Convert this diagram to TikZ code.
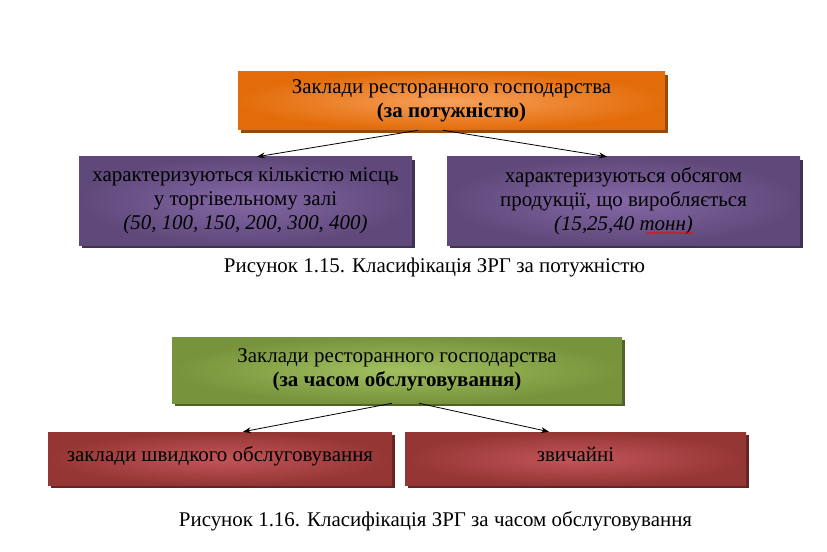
\documentclass[tikz,border=0pt]{standalone}
\usepackage{fontspec}
\setmainfont{Liberation Serif}
\usetikzlibrary{arrows.meta,shadows,decorations.pathmorphing}
\definecolor{orEdge}{HTML}{E36C0A}\definecolor{orIn}{HTML}{F7A05A}\definecolor{orSh}{HTML}{984807}
\definecolor{puEdge}{HTML}{5F497A}\definecolor{puIn}{HTML}{8468A6}\definecolor{puSh}{HTML}{3F3151}
\definecolor{grEdge}{HTML}{77933C}\definecolor{grIn}{HTML}{A2C060}\definecolor{grSh}{HTML}{4F6228}
\definecolor{reEdge}{HTML}{943634}\definecolor{reIn}{HTML}{C4555A}\definecolor{reSh}{HTML}{632423}
\tikzset{
  box/.style={rectangle, inner sep=0pt, align=center, font=\fontsize{15.7pt}{18pt}\selectfont,
    drop shadow={shadow xshift=2.25pt, shadow yshift=-2.25pt, opacity=1, fill=#1}},
  orbox/.style={box=orSh, inner color=orIn, outer color=orEdge},
  pubox/.style={box=puSh, inner color=puIn, outer color=puEdge},
  grbox/.style={box=grSh, inner color=grIn, outer color=grEdge},
  rebox/.style={box=reSh, inner color=reIn, outer color=reEdge},
  arr/.style={-{Stealth[length=6pt,width=4.5pt]}, line width=0.6pt, black},
  captext/.style={font=\fontsize{15.7pt}{18pt}\selectfont, inner sep=0pt},
  spell/.style={red, line width=0.5pt, decorate, decoration={snake, amplitude=0.6pt, segment length=2.4pt}}
}
\begin{document}
\begin{tikzpicture}[x=0.75pt,y=-0.75pt]
\useasboundingbox (0,0) rectangle (827,552);
\node[orbox, minimum width=320.25pt, minimum height=43.5pt] (o) at (451.5,101)
  {Заклади ресторанного господарства\\\textbf{(за потужністю)}};
\node[pubox, minimum width=249.75pt, minimum height=66pt] (p1) at (245.5,201)
  {характеризуються кількістю місць\\у торгівельному залі\\\textit{(50, 100, 150, 200, 300, 400)}};
\node[pubox, minimum width=264.75pt, minimum height=66pt] (p2) at (623.5,201)
  {характеризуються обсягом\\продукції, що виробляється\\\textit{(15,25,40 тонн)}};
\draw[spell] (647,233) -- (693,233);
\draw[arr] ([xshift=-25pt]o.south) -- ([xshift=8.6pt]p1.north);
\draw[arr] ([xshift=-6.4pt]o.south) -- ([xshift=-12.4pt]p2.north);
\node[captext] (c1) at (434.5,267) {Рисунок 1.15. Класифікація ЗРГ за потужністю};
\node[grbox, minimum width=337.5pt, minimum height=49.5pt] (g) at (397,370)
  {Заклади ресторанного господарства\\\textbf{(за часом обслуговування)}};
\node[rebox, minimum width=258pt, minimum height=39.75pt, text depth=0pt] (r1) at (220,458.5)
  {\raisebox{6pt}{заклади швидкого обслуговування}};
\node[rebox, minimum width=255.75pt, minimum height=39.75pt] (r2) at (575.5,458.5)
  {\raisebox{6pt}{звичайні}};
\draw[arr] ([xshift=-3.75pt]g.south) -- ([xshift=17.25pt]r1.north);
\draw[arr] ([xshift=16.5pt]g.south) -- ([xshift=-19.9pt]r2.north);
\node[captext] (c2) at (435.5,521) {Рисунок 1.16. Класифікація ЗРГ за часом обслуговування};
\end{tikzpicture}
\end{document}
